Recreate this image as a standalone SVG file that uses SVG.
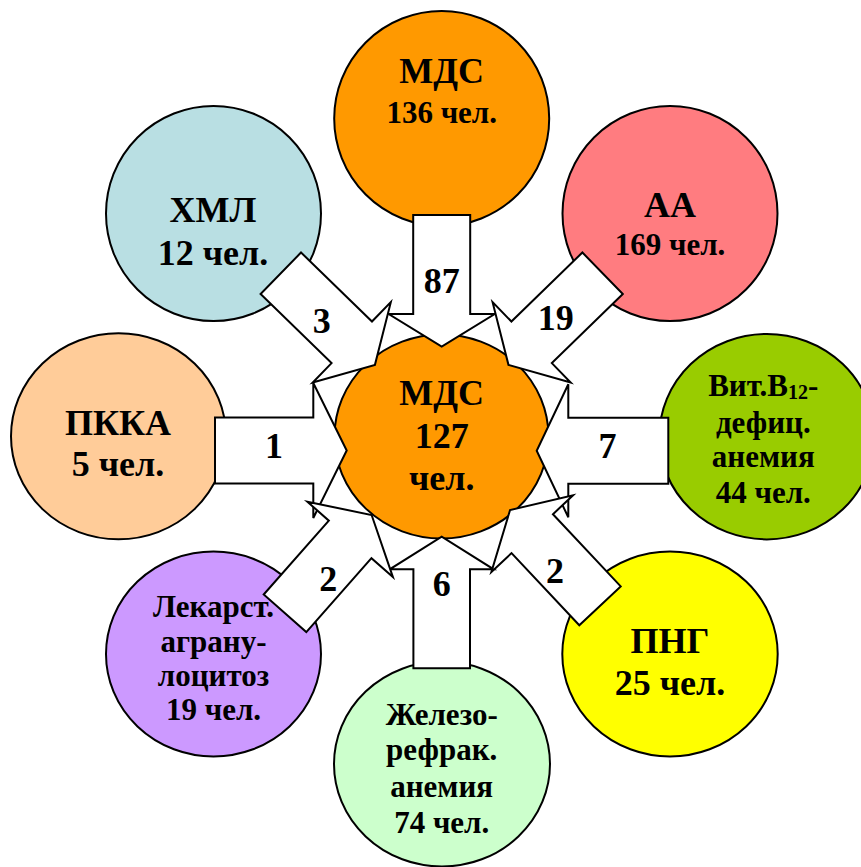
<svg xmlns="http://www.w3.org/2000/svg" width="861" height="867" viewBox="0 0 861 867">
<style>
  .node { stroke: #000; stroke-width: 2; }
  .t { font-family: "Liberation Serif", "Times New Roman", serif; font-weight: bold; text-anchor: middle; fill: #000; }
  .big { font-size: 36px; }
  .mid { font-size: 31px; }
  .arrow { fill: #fff; stroke: #000; stroke-width: 2; stroke-linejoin: miter; }
  .lbl { font-family: "Liberation Serif", "Times New Roman", serif; font-weight: bold; font-size: 36px; text-anchor: middle; fill: #000; }
</style>
<rect width="861" height="867" fill="#fff"/>

<g id="node-mds-top">
  <circle class="node" cx="441.7" cy="118.5" r="107.5" fill="#FF9900"/>
  <text class="t big" x="441.7" y="83">МДС</text>
  <text class="t mid" x="441.7" y="122.7">136 чел.</text>
</g>
<g id="node-hml">
  <circle class="node" cx="213.5" cy="213.5" r="107.5" fill="#B9DFE3"/>
  <text class="t big" x="213" y="221.7">ХМЛ</text>
  <text class="t big" x="213" y="265">12 чел.</text>
</g>
<g id="node-aa">
  <circle class="node" cx="670" cy="213.5" r="107.5" fill="#FF7C80"/>
  <text class="t big" x="670" y="216.7">АА</text>
  <text class="t mid" x="670" y="255">169 чел.</text>
</g>
<g id="node-pkka">
  <ellipse class="node" cx="118.5" cy="436.3" rx="107.5" ry="103" fill="#FFCC99"/>
  <text class="t big" x="118" y="435">ПККА</text>
  <text class="t big" x="118" y="476">5 чел.</text>
</g>
<g id="node-b12">
  <ellipse class="node" cx="766.8" cy="436.7" rx="107.5" ry="102.7" fill="#99CC00"/>
  <text class="t mid" x="763.3" y="396">Вит.В<tspan font-size="20" dy="3">12</tspan><tspan dy="-3">-</tspan></text>
  <text class="t mid" x="763.3" y="433">дефиц.</text>
  <text class="t mid" x="763.3" y="467">анемия</text>
  <text class="t mid" x="763.3" y="502.5">44 чел.</text>
</g>
<g id="node-lek">
  <ellipse class="node" cx="213.5" cy="654" rx="107.5" ry="102.5" fill="#CC99FF"/>
  <text class="t mid" x="213.5" y="616.7">Лекарст.</text>
  <text class="t mid" x="213.5" y="651.7">аграну-</text>
  <text class="t mid" x="213.5" y="686">лоцитоз</text>
  <text class="t mid" x="213.5" y="720">19 чел.</text>
</g>
<g id="node-fe">
  <ellipse class="node" cx="442" cy="764" rx="108" ry="102.5" fill="#CCFFCC"/>
  <text class="t mid" x="441.7" y="725">Железо-</text>
  <text class="t mid" x="441.7" y="760">рефрак.</text>
  <text class="t mid" x="441.7" y="796.7">анемия</text>
  <text class="t mid" x="441.7" y="833.3">74 чел.</text>
</g>
<g id="node-png">
  <ellipse class="node" cx="670" cy="654" rx="107.7" ry="102.5" fill="#FFFF00"/>
  <text class="t big" x="670" y="653.3">ПНГ</text>
  <text class="t big" x="670" y="695">25 чел.</text>
</g>
<g id="node-center">
  <ellipse class="node" cx="441.5" cy="436.5" rx="107" ry="102" fill="#FF9900"/>
  <text class="t big" x="441.7" y="405">МДС</text>
  <text class="t big" x="441.7" y="448.3">127</text>
  <text class="t big" x="441.7" y="490">чел.</text>
</g>

<g id="connectors">
  <path class="arrow" transform="translate(441.7,215) rotate(90)" d="M0,-28.5 L99,-28.5 L99,-53 L131.5,0 L99,53 L99,28.5 L0,28.5 Z"/>
  <path class="arrow" transform="translate(441.7,668.3) rotate(-90)" d="M0,-28.3 L99,-28.3 L99,-52 L131.6,0 L99,52 L99,28.3 L0,28.3 Z"/>
  <path class="arrow" transform="translate(215,450.5)" d="M0,-33 L98.3,-33 L98.3,-67.5 L131.7,0 L98.3,67.5 L98.3,33 L0,33 Z"/>
  <path class="arrow" transform="translate(668.3,450.8) rotate(180)" d="M0,-33 L100,-33 L100,-66.5 L131.6,0 L100,66.5 L100,33 L0,33 Z"/>
  <path class="arrow" transform="translate(280.8,273.3) rotate(44.2)" d="M0,-29 L99,-29 L99,-56 L131.3,0 L99,56 L99,29 L0,29 Z"/>
  <path class="arrow" transform="translate(602.6,273.3) rotate(135.8)" d="M0,-29 L99,-29 L99,-56 L131.3,0 L99,56 L99,29 L0,29 Z"/>
  <path class="arrow" transform="translate(285,613.3) rotate(-48.6)" d="M0,-28.4 L98.5,-28.4 L98.5,-57 L131,0 L98.5,57 L98.5,28.4 L0,28.4 Z"/>
  <path class="arrow" transform="translate(600,605.8) rotate(-133.2)" d="M0,-28.4 L99,-28.4 L99,-56 L131.4,0 L99,56 L99,28.4 L0,28.4 Z"/>
  <text class="lbl" x="441.7" y="293.3">87</text>
  <text class="lbl" x="321.7" y="333.3">3</text>
  <text class="lbl" x="555.8" y="330">19</text>
  <text class="lbl" x="274" y="458.3">1</text>
  <text class="lbl" x="607.5" y="458.3">7</text>
  <text class="lbl" x="328.3" y="590.7">2</text>
  <text class="lbl" x="441.7" y="596">6</text>
  <text class="lbl" x="555" y="583.3">2</text>
</g>
</svg>
